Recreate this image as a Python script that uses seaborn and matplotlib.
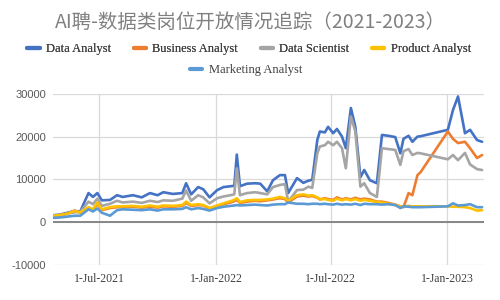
import matplotlib
matplotlib.use("Agg")
import pandas as pd
import seaborn as sns
import matplotlib.pyplot as plt
from matplotlib.lines import Line2D
from matplotlib.font_manager import FontProperties

title = "AI聘-数据类岗位开放情况追踪（2021-2023）"
series_names = ["Data Analyst", "Business Analyst", "Data Scientist",
                "Product Analyst", "Marketing Analyst"]
colors = ["#4472C4", "#ED7D31", "#A5A5A5", "#FFC000", "#5B9BD5"]

dates = [
    "2021-04-19", "2021-05-01", "2021-05-12", "2021-05-23", "2021-06-01",
    "2021-06-07", "2021-06-14", "2021-06-21", "2021-06-28", "2021-07-05",
    "2021-07-18", "2021-07-29", "2021-08-07", "2021-08-23", "2021-09-06",
    "2021-09-19", "2021-10-01", "2021-10-10", "2021-10-25", "2021-11-09",
    "2021-11-15", "2021-11-23", "2021-12-04", "2021-12-12", "2021-12-22",
    "2022-01-03", "2022-01-13", "2022-01-24", "2022-01-30", "2022-02-03",
    "2022-02-08", "2022-02-19", "2022-03-04", "2022-03-12", "2022-03-23",
    "2022-04-01", "2022-04-12", "2022-04-20", "2022-04-25", "2022-05-09",
    "2022-05-19", "2022-05-27", "2022-06-02", "2022-06-10", "2022-06-14",
    "2022-06-22", "2022-06-27", "2022-07-05", "2022-07-11", "2022-07-19",
    "2022-07-25", "2022-08-02", "2022-08-09", "2022-08-17", "2022-08-23",
    "2022-09-01", "2022-09-12", "2022-09-20", "2022-09-30", "2022-10-11",
    "2022-10-19", "2022-10-24", "2022-11-01", "2022-11-07", "2022-11-15",
    "2022-11-20", "2023-01-02", "2023-01-10", "2023-01-18", "2023-01-29",
    "2023-02-06", "2023-02-17", "2023-02-25",
]

data_analyst = [
    1600, 1800, 2200, 2600, 2500, 4500, 6800, 5900, 6800, 5100,
    5200, 6300, 5900, 6300, 5800, 6800, 6300, 7000, 6600, 6800,
    9100, 6500, 8200, 7700, 5800, 7500, 8200, 8400, 8500, 15800,
    8400, 9000, 9100, 9000, 7200, 9800, 11000, 11000, 6800, 10300,
    9200, 9700, 9900, 19200, 21200, 21000, 22300, 20800, 21800, 20000,
    17300, 26700, 22300, 10500, 12200, 9800, 9100, 20400, 20200, 19900,
    16100, 19500, 20200, 18800, 20000, 20100, 21600, 26200, 29400, 20800,
    21600, 19200, 18800,
]
business_analyst = [
    1300, 1500, 2000, 2700, 2200, 2600, 3200, 2800, 4300, 2800,
    3300, 3500, 3500, 3600, 3400, 3600, 3400, 3700, 3600, 3800,
    4500, 3800, 4000, 3900, 3100, 3800, 4200, 4600, 4900, 5200,
    4500, 4800, 5000, 4900, 5100, 5300, 5600, 5400, 4600, 6000,
    6200, 6000, 6100, 5700, 5300, 5600, 5400, 5200, 5800, 5300,
    5600, 5300, 5700, 5300, 5500, 5300, 4800, 4800, 4500, 4100,
    3700, 3500, 6800, 6300, 11000, 11700, 21200, 19500, 18500, 18800,
    17300, 15000, 15700,
]
data_scientist = [
    1400, 1600, 2000, 2300, 2400, 3500, 4800, 4200, 5500, 3800,
    4300, 5000, 4600, 4800, 4500, 5000, 4700, 5100, 5000, 5500,
    7400, 5000, 6300, 5800, 4400, 5600, 6000, 6300, 6500, 12600,
    6300, 6800, 7000, 6800, 6500, 8200, 8700, 8900, 4800, 7500,
    7600, 8300, 8000, 16100, 17700, 18000, 18800, 18000, 18800, 17300,
    12600, 24700, 21200, 8300, 9100, 6800, 5900, 17300, 17100, 16900,
    13400, 16600, 17100, 15700, 16200, 16100, 14700, 15700, 14500, 16200,
    13500, 12400, 12200,
]
product_analyst = [
    1500, 1700, 2000, 2600, 2300, 2800, 3500, 3000, 4600, 3000,
    3500, 3700, 3700, 3800, 3600, 3900, 3600, 3900, 3800, 4000,
    4800, 4000, 4200, 4000, 3300, 3900, 4400, 4900, 5200, 5600,
    4700, 5100, 5200, 5200, 5300, 5500, 5900, 5600, 5000, 6300,
    6500, 6200, 6300, 5800, 5400, 5400, 5200, 5000, 5500, 5100,
    5400, 5100, 5400, 5000, 5200, 5000, 4700, 4600, 4300, 4000,
    3700, 3600, 3800, 3700, 3700, 3700, 3700, 3600, 3600, 3500,
    3300, 2700, 2800,
]
marketing_analyst = [
    1000, 1100, 1300, 1500, 1500, 2200, 3000, 2500, 3200, 2200,
    1500, 2800, 3000, 2900, 2800, 3000, 2700, 3000, 3000, 3100,
    3500, 3000, 3300, 3100, 2700, 3300, 3600, 3800, 3900, 4000,
    3900, 4000, 4100, 4000, 3900, 4100, 4200, 4200, 4600, 4300,
    4300, 4200, 4300, 4300, 4200, 4300, 4200, 4100, 4300, 4100,
    4200, 4100, 4300, 4000, 4300, 4200, 4200, 4100, 4200, 4000,
    3300, 3700, 3600, 3500, 3500, 3500, 3700, 4400, 3900, 4000,
    4200, 3500, 3500,
]

y_ticks = [-10000, 0, 10000, 20000, 30000]
x_tick_dates = ["2021-07-01", "2022-01-01", "2022-07-01", "2023-01-01"]
x_tick_labels = ["1-Jul-2021", "1-Jan-2022", "1-Jul-2022", "1-Jan-2023"]

df = pd.DataFrame({
    "date": pd.to_datetime(dates),
    "Data Analyst": data_analyst,
    "Business Analyst": business_analyst,
    "Data Scientist": data_scientist,
    "Product Analyst": product_analyst,
    "Marketing Analyst": marketing_analyst,
})
long = df.melt(id_vars="date", var_name="series", value_name="value")

sns.set_theme(style="white")
plt.rcParams["font.family"] = ["Liberation Serif", "DejaVu Sans"]

fig = plt.figure(figsize=(5, 3), dpi=100)
fig.patch.set_facecolor("white")
ax = fig.add_axes([0.106, 0.117, 0.862, 0.570])

sns.lineplot(data=long, x="date", y="value", hue="series",
             hue_order=series_names, palette=colors, linewidth=1.9,
             legend=False, ax=ax, zorder=3)

ax.set_xlim(pd.Timestamp("2021-04-19"), pd.Timestamp("2023-02-28"))
ax.set_ylim(-10000, 30000)
ax.set_yticks(y_ticks)
ax.set_yticklabels([str(v) for v in y_ticks], fontfamily="Liberation Sans",
                   fontsize=8, color="#595959")
ax.set_xticks(pd.to_datetime(x_tick_dates))
ax.set_xticklabels(x_tick_labels, fontfamily="Liberation Serif",
                   fontsize=8.5, color="#404040")
ax.tick_params(axis="both", length=0)
ax.tick_params(axis="x", pad=6)
ax.tick_params(axis="y", pad=5)
ax.set_xlabel("")
ax.set_ylabel("")
ax.grid(True, color="#d9d9d9", linewidth=0.9)
ax.axhline(0, color="#868686", linewidth=1.4, zorder=2)
for s in ax.spines.values():
    s.set_visible(False)

fig.text(0.5, 1 - 22 / 300, title, ha="center", va="center", fontsize=14,
         color="#808080", family=["Noto Sans CJK SC", "DejaVu Sans"])

handles = [Line2D([0], [0], color=c, linewidth=3) for c in colors]
prop = FontProperties(family="Liberation Serif", size=9)
leg1 = fig.legend(handles[:4], series_names[:4], loc="center",
                  bbox_to_anchor=(249 / 500, 1 - 49 / 300), ncol=4,
                  frameon=False, prop=prop, handlelength=1.0,
                  handletextpad=0.5, columnspacing=1.8,
                  labelcolor="#404040")
fig.add_artist(leg1)
fig.legend(handles[4:], series_names[4:], loc="center",
           bbox_to_anchor=(246 / 500, 1 - 70 / 300), ncol=1,
           frameon=False, prop=prop, handlelength=1.0,
           handletextpad=0.5, labelcolor="#404040")

fig.savefig("out.png", dpi=100, facecolor="white")
